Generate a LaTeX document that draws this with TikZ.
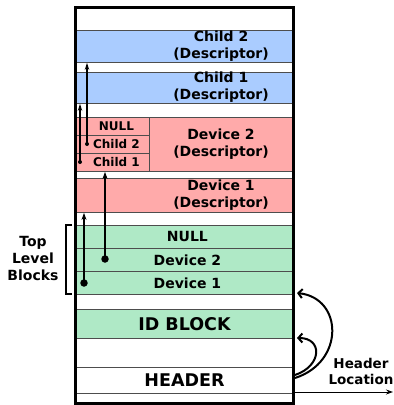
\documentclass[tikz,border=0pt]{standalone}
\usepackage{fontspec}
\setmainfont{DejaVu Sans}
\usetikzlibrary{arrows.meta}
\definecolor{cblue}{HTML}{AACCFF}
\definecolor{cpink}{HTML}{FFAAAA}
\definecolor{cgreen}{HTML}{AFE9C6}
\definecolor{sep}{HTML}{4D4D4D}
\begin{document}
\begin{tikzpicture}[x=1pt,y=-1pt,
  row/.style={draw=sep, line width=0.9pt, inner sep=0pt, anchor=north west,
    minimum width=218pt, font=\bfseries\fontsize{14}{17}\selectfont, align=center},
  sub/.style={draw=sep, line width=0.9pt, inner sep=0pt, anchor=north west,
    minimum width=74pt, minimum height=18pt, font=\bfseries\fontsize{12}{14}\selectfont},
  lbl/.style={inner sep=0pt, font=\bfseries\fontsize{14}{17}\selectfont, align=center},
  big/.style={font=\bfseries\fontsize{17.5}{20}\selectfont},
  ptr/.style={line width=2pt, -{Stealth[length=7pt,width=5pt]}},
  cptr/.style={line width=1.4pt, -{Stealth[length=7pt,width=4.5pt]}},
  bigdot/.style={circle, fill=black, inner sep=0pt, minimum size=7.5pt},
  smalldot/.style={circle, fill=black, inner sep=0pt, minimum size=4pt},
  loop/.style={line width=2pt, -{Straight Barb[length=4pt,width=9pt]}},
]
\useasboundingbox (0,0) rectangle (394,405);
% rows
\node[row, minimum height=23pt] (w0) at (75,7) {};
\node[row, fill=cblue, minimum height=32pt] (child2) at (75,30) {};
\node[row, minimum height=10pt] (w1) at (75,62) {};
\node[row, fill=cblue, minimum height=31pt] (child1) at (75,72) {};
\node[row, minimum height=14pt] (w2) at (75,103) {};
\node[row, fill=cpink, minimum height=54pt] (dev2) at (75,117) {};
\node[sub] (snull) at (75,117) {\hspace*{8pt}NULL};
\node[sub] (schild2) at (75,135) {\hspace*{8pt}Child 2};
\node[sub] (schild1) at (75,153) {\hspace*{8pt}Child 1};
\node[row, minimum height=7pt] (w3) at (75,171) {};
\node[row, fill=cpink, minimum height=34pt] (dev1) at (75,178) {};
\node[row, minimum height=13pt] (w4) at (75,212) {};
\node[row, fill=cgreen, minimum height=23pt] (gnull) at (75,225) {\hspace*{6pt}NULL};
\node[row, fill=cgreen, minimum height=23pt] (gdev2) at (75,248) {\hspace*{6pt}Device 2};
\node[row, fill=cgreen, minimum height=23pt] (gdev1) at (75,271) {\hspace*{6pt}Device 1};
\node[row, minimum height=15pt] (w5) at (75,294) {};
\node[row, fill=cgreen, minimum height=29pt, big] (idblock) at (75,309) {ID BLOCK};
\node[row, minimum height=29pt] (w6) at (75,338) {};
\node[row, minimum height=26pt, big] (header) at (75,367) {HEADER};
\node[row, minimum height=10pt] (w7) at (75,393) {};
% descriptor labels
\node[lbl] (lc2) at (221,46) {Child 2\\(Descriptor)};
\node[lbl] (lc1) at (221,87.5) {Child 1\\(Descriptor)};
\node[lbl] (ld2) at (221,144) {Device 2\\(Descriptor)};
\node[lbl] (ld1) at (221,195) {Device 1\\(Descriptor)};
% outer box
\draw[line width=3pt] (w0.north west) rectangle (w7.south east);
% pointers
\node[smalldot] (dc1) at (80,162) {};
\node[smalldot] (dc2) at (87,144) {};
\node[bigdot] (dd2) at (105,259) {};
\node[bigdot] (dd1) at (84,283) {};
\draw[cptr] (dc1.center) -- (dc1 |- child1.south);
\draw[cptr] (dc2.center) -- (dc2 |- child2.south);
\draw[ptr] (dd2.center) -- (dd2 |- dev2.south);
\draw[ptr] (dd1.center) -- (dd1 |- dev1.south);
% bracket
\coordinate (bt) at (72,225);
\coordinate (bb) at (72,294);
\draw[line width=1.2pt] (bt) -- ++(-6,0) -- ++(0,69) -- (bb);
\node[lbl] (tlb) at (33,258) {Top\\Level\\Blocks};
% loops
\coordinate (s1) at (295,378);
\coordinate (e1) at (297,293);
\coordinate (s2) at (295,375);
\coordinate (e2) at (297,338);
\draw[loop] (s1) .. controls (345,362) and (343,298) .. (e1);
\draw[loop] (s2) .. controls (322,366) and (323,338) .. (e2);
% header location
\coordinate (hl) at (393,392);
\draw[line width=1pt, -{Stealth[length=7pt,width=5pt]}] (hl -| header.east) -- (hl);
\node[lbl, font=\bfseries\fontsize{13.5}{16}\selectfont] (hlt) at (361,371) {Header\\Location};
\end{tikzpicture}
\end{document}
